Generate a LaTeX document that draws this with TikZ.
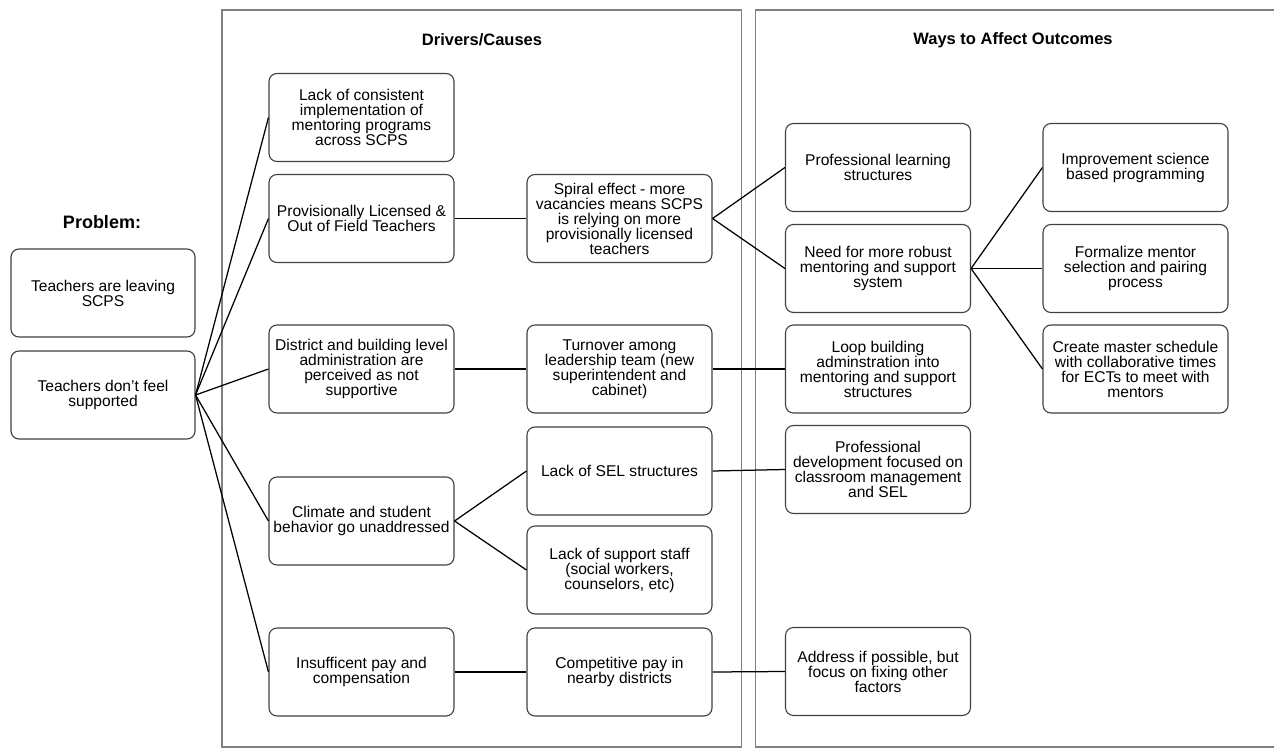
\documentclass[tikz,border=0pt]{standalone}
\usepackage{fontspec}
\setmainfont{Liberation Sans}
\begin{document}
\begin{tikzpicture}[x=1pt,y=-1pt,
  box/.style={draw=black!75, line width=1.1pt, rounded corners=8pt, minimum width=185pt, minimum height=88pt, inner sep=0pt, align=center, font=\fontsize{15.6}{15}\selectfont},
  conn/.style={draw=black, line width=1.25pt},
  panel/.style={draw=black!50, line width=1.6pt},
  ttl/.style={font=\fontsize{16.5}{18}\selectfont\bfseries}]
\useasboundingbox (0,0) rectangle (1274,749);
\clip (0,0) rectangle (1274,749);
% panels
\draw[panel] (222,10) rectangle (741.5,747);
\draw[panel] (755.5,10) rectangle (1280,747);
\node[ttl] (tdrv) at (482,40) {Drivers/Causes};
\node[ttl] (tway) at (1013,40) {Ways to Affect Outcomes};
\node[ttl, font=\fontsize{18}{20}\selectfont\bfseries] (tprob) at (102,222) {Problem:};
% problem
\node[box, minimum width=184pt] (leave) at (103,293) {Teachers are leaving\\SCPS};
\node[box, minimum width=184pt] (supp) at (103,395) {Teachers don't feel\\supported};
% drivers column 1
\node[box] (c1) at (361.5,117.5) {Lack of consistent\\implementation of\\mentoring programs\\across SCPS};
\node[box] (c2) at (361.5,218.5) {Provisionally Licensed \&\\Out of Field Teachers};
\node[box] (c3) at (361.5,369) {District and building level\\administration are\\perceived as not\\supportive};
\node[box] (c4) at (361.5,521) {Climate and student\\behavior go unaddressed};
\node[box] (c5) at (361.5,672) {Insufficent pay and\\compensation};
% drivers column 2
\node[box] (d2) at (619.5,218.5) {Spiral effect - more\\vacancies means SCPS\\is relying on more\\provisionally licensed\\teachers};
\node[box] (d3) at (619.5,369) {Turnover among\\leadership team (new\\superintendent and\\cabinet)};
\node[box] (d4a) at (619.5,471) {Lack of SEL structures};
\node[box] (d4b) at (619.5,570) {Lack of support staff\\(social workers,\\counselors, etc)};
\node[box] (d5) at (619.5,672) {Competitive pay in\\nearby districts};
% ways column 1
\node[box] (w1) at (878,167.5) {Professional learning\\structures};
\node[box] (w2) at (878,268.5) {Need for more robust\\mentoring and support\\system};
\node[box] (w3) at (878,369) {Loop building\\adminstration into\\mentoring and support\\structures};
\node[box] (w4) at (878,469.5) {Professional\\development focused on\\classroom management\\and SEL};
\node[box] (w5) at (878,671.5) {Address if possible, but\\focus on fixing other\\factors};
% ways column 2
\node[box] (v1) at (1135.5,167.5) {Improvement science\\based programming};
\node[box] (v2) at (1135.5,268.5) {Formalize mentor\\selection and pairing\\process};
\node[box] (v3) at (1135.5,369) {Create master schedule\\with collaborative times\\for ECTs to meet with\\mentors};
% connectors
\foreach \t in {c1,c2,c3,c4,c5} \draw[conn] (supp.east) -- (\t.west);
\draw[conn] (c2.east) -- (d2.west);
\draw[conn] (d2.east) -- (w1.west);
\draw[conn] (d2.east) -- (w2.west);
\draw[conn] (c3.east) -- (d3.west);
\draw[conn] (d3.east) -- (w3.west);
\draw[conn] (c4.east) -- (d4a.west);
\draw[conn] (c4.east) -- (d4b.west);
\draw[conn] (d4a.east) -- (w4.west);
\draw[conn] (c5.east) -- (d5.west);
\draw[conn] (d5.east) -- (w5.west);
\draw[conn] (w2.east) -- (v1.west);
\draw[conn] (w2.east) -- (v2.west);
\draw[conn] (w2.east) -- (v3.west);
\end{tikzpicture}
\end{document}
